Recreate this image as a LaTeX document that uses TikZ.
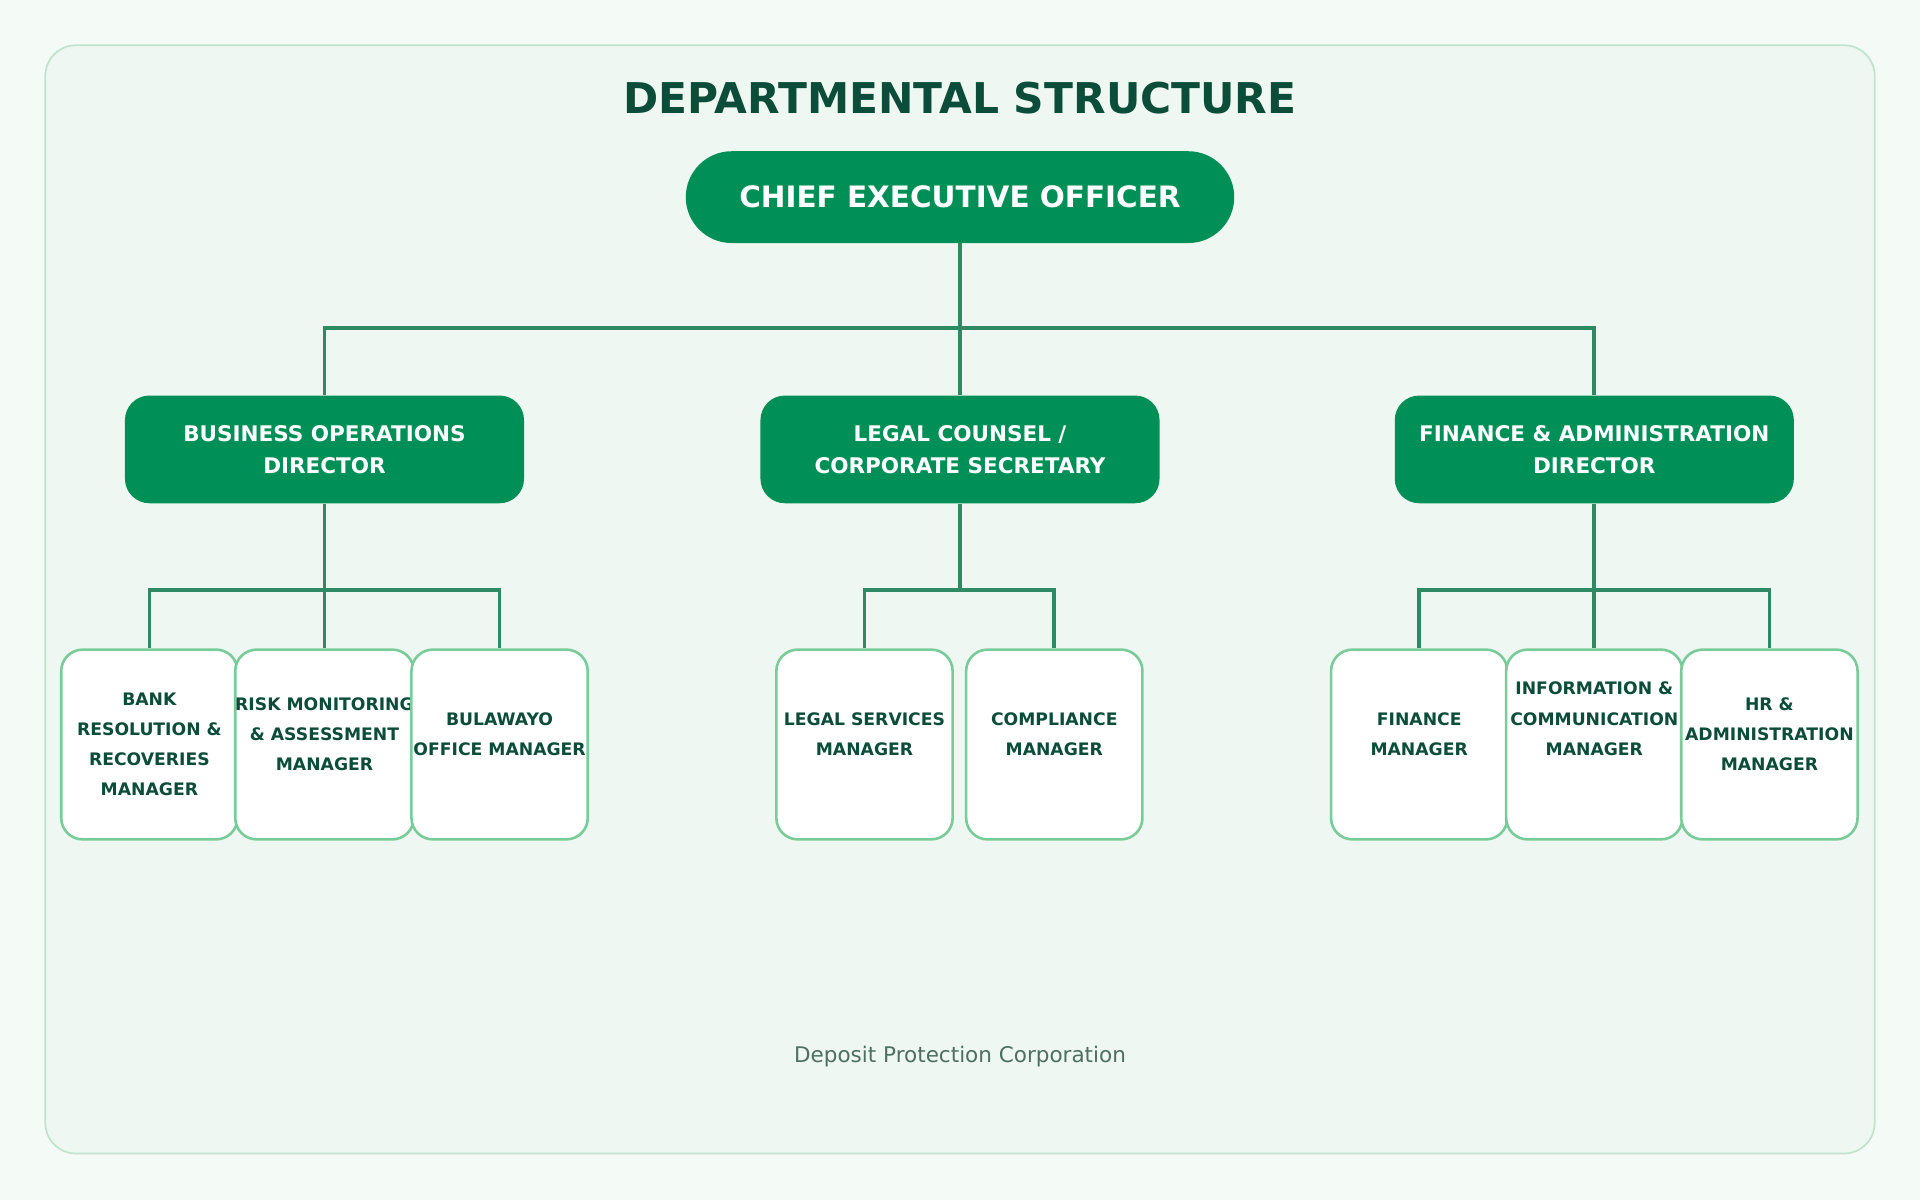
\documentclass[tikz,border=0pt]{standalone}
\usepackage{fontspec}
\setmainfont{DejaVu Sans}
\usetikzlibrary{positioning}
\definecolor{bgpage}{HTML}{F4FAF6}
\definecolor{bgpanel}{HTML}{EEF7F1}
\definecolor{panelline}{HTML}{BFE3CF}
\definecolor{darkgreen}{HTML}{0B4D38}
\definecolor{boxgreen}{HTML}{009057}
\definecolor{linkgreen}{HTML}{2E8A62}
\definecolor{mgrline}{HTML}{7ACB9A}
\definecolor{footgray}{HTML}{4F6F63}
\tikzset{
  ceo/.style={draw=none, fill=boxgreen, rounded corners=0.75cm, minimum width=8.96cm, minimum height=1.5cm, text=white, font=\bfseries\fontsize{13.7}{16}\selectfont},
  director/.style={draw=none, fill=boxgreen, rounded corners=0.4cm, minimum width=6.52cm, minimum height=1.76cm, text=white, align=center, font=\bfseries\fontsize{10}{15}\selectfont},
  manager/.style={draw=mgrline, line width=1.2pt, fill=white, rounded corners=0.35cm, minimum width=2.88cm, minimum height=3.1cm, inner xsep=0pt, align=center, text=darkgreen, font=\bfseries\fontsize{8}{14}\selectfont},
  link/.style={draw=linkgreen, line width=1.7pt}
}
\begin{document}
\begin{tikzpicture}[x=0.02cm,y=-0.02cm]
  \fill[bgpage] (0,0) rectangle (1568,980);
  \useasboundingbox (0,0) rectangle (1568,980);
  \draw[panelline, fill=bgpanel, line width=0.8pt, rounded corners=0.5cm] (37,37) rectangle (1531,942);

  \node[text=darkgreen, font=\bfseries\fontsize{19.7}{24}\selectfont] (title) at (784,80) {DEPARTMENTAL STRUCTURE};
  \node[ceo] (ceo) at (784,161) {CHIEF EXECUTIVE OFFICER};

  \node[director] (busdir) at (265,367) {BUSINESS OPERATIONS\\DIRECTOR};
  \node[director] (legal) at (784,367) {LEGAL COUNSEL /\\CORPORATE SECRETARY};
  \node[director] (findir) at (1302,367) {FINANCE \& ADMINISTRATION\\DIRECTOR};

  \node[manager] (bank) at (122,608) {BANK\\RESOLUTION \&\\RECOVERIES\\MANAGER};
  \node[manager] (risk) at (265,608) {RISK MONITORING\\\& ASSESSMENT\\MANAGER\\[-0.16cm]};
  \node[manager] (bula) at (408,608) {BULAWAYO\\OFFICE MANAGER\\[-0.16cm]};
  \node[manager] (legsvc) at (706,608) {LEGAL SERVICES\\MANAGER\\[-0.16cm]};
  \node[manager] (compl) at (861,608) {COMPLIANCE\\MANAGER\\[-0.16cm]};
  \node[manager] (fin) at (1159,608) {FINANCE\\MANAGER\\[-0.16cm]};
  \node[manager] (ict) at (1302,608) {INFORMATION \&\\COMMUNICATION\\MANAGER\\[0.35cm]};
  \node[manager] (hr) at (1445,608) {HR \&\\ADMINISTRATION\\MANAGER\\[-0.16cm]};

  % top level bus
  \coordinate (topbus) at (784,268);
  \draw[link] (ceo.south) -- (legal.north);
  \draw[link] (busdir.north) |- (topbus) -| (findir.north);

  % department buses
  \draw[link] (busdir.south) -- (risk.north);
  \draw[link] (bank.north) |- (265,482) -| (bula.north);
  \draw[link] (legal.south) -- (784,482);
  \draw[link] (legsvc.north) |- (784,482) -| (compl.north);
  \draw[link] (findir.south) -- (ict.north);
  \draw[link] (fin.north) |- (1302,482) -| (hr.north);

  \node[text=footgray, font=\fontsize{10}{12}\selectfont] (footer) at (784,863) {Deposit Protection Corporation};
\end{tikzpicture}
\end{document}
